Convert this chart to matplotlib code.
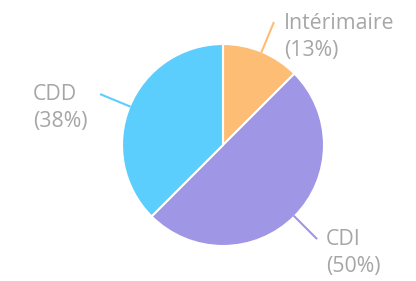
import numpy as np
import matplotlib.pyplot as plt

labels = ["Intérimaire", "CDI", "CDD"]
counts = [1, 4, 3]
colors = ["#FEBD74", "#A096E6", "#5CCEFE"]
pct_text = ["13%", "50%", "38%"]

fig = plt.figure(figsize=(4.16, 2.81), dpi=100)
ax = fig.add_axes([0, 0, 1, 1])

cx, cy, r = 223, 136, 101
wedges, _ = ax.pie(counts, colors=colors, startangle=90, counterclock=False,
                   center=(cx, cy), radius=r, frame=True,
                   wedgeprops=dict(edgecolor="white", linewidth=1.5))
ax.set_xlim(0, 416)
ax.set_ylim(0, 281)
ax.axis("off")

# label placement (pixels)
text_pos = [(284, 244), (326, 28), (33, 173)]
for w, lab, pct, col, (tx, ty) in zip(wedges, labels, pct_text, colors, text_pos):
    ang = np.deg2rad((w.theta1 + w.theta2) / 2)
    d = np.array([np.cos(ang), np.sin(ang)])
    p0 = np.array([cx, cy]) + d * r
    p1 = np.array([cx, cy]) + d * (r + 31)
    ax.plot([p0[0], p1[0]], [p0[1], p1[1]], color=col, lw=1.5)
    ax.text(tx, ty, f"{lab}\n({pct})", ha="left", va="center",
            fontsize=15.3, color="#A6A6A6", family="Open Sans", linespacing=1.35)

fig.savefig("out.png", dpi=100)
